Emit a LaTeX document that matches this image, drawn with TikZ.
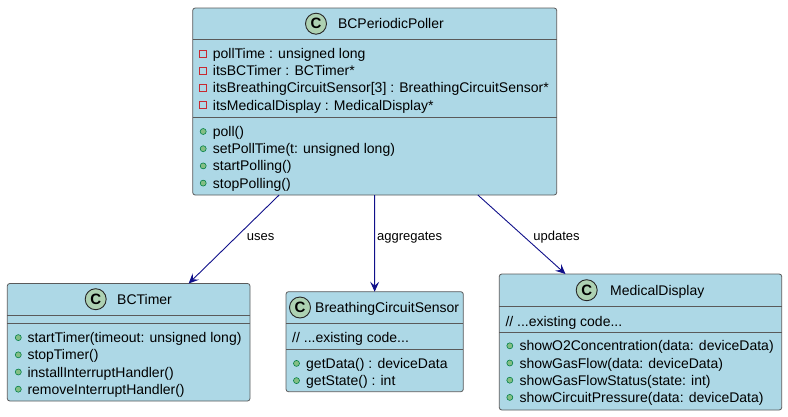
\documentclass[tikz,border=0pt]{standalone}
\usepackage{fontspec}
\setmainfont{Liberation Sans}
\usetikzlibrary{arrows.meta}
\definecolor{clsfill}{HTML}{ADD8E6}
\definecolor{clsline}{HTML}{5A5A5A}
\definecolor{spotfill}{HTML}{ADD1B2}
\definecolor{arrowblue}{HTML}{10108A}
\definecolor{privred}{HTML}{C82930}
\definecolor{pubfill}{HTML}{84BE84}
\definecolor{publine}{HTML}{038048}
\tikzset{
	cls/.style={draw=clsline, fill=clsfill, rounded corners=2.5pt, line width=0.8pt, inner sep=0pt, outer sep=0pt},
	sep/.style={draw=clsline, line width=0.8pt},
	spot/.style={circle, draw=black!85, fill=spotfill, line width=0.9pt, minimum size=21pt, inner sep=0pt, font=\fontsize{15}{15}\selectfont\bfseries},
	txt/.style={anchor=base west, inner sep=0pt, font=\fontsize{14}{16}\selectfont},
	priv/.style={draw=privred, line width=0.9pt},
	pub/.style={draw=publine, fill=pubfill, line width=0.6pt},
	dep/.style={draw=arrowblue, line width=0.9pt, -{Stealth[length=10pt,width=9pt,inset=4pt]}},
	lbl/.style={anchor=base west, inner sep=0pt, font=\fontsize{13}{15}\selectfont}
}
\begin{document}
\begin{tikzpicture}[x=1pt,y=-1pt]
	\useasboundingbox (0,0) rectangle (788,416);
	\def\r{17.2}
	
	% class boxes
	\node[cls, minimum width=364pt, minimum height=187pt] (poller) at (374.7,101.5) {};
	\node[cls, minimum width=242.7pt, minimum height=117.5pt] (timer) at (128.65,342.25) {};
	\node[cls, minimum width=177.3pt, minimum height=100pt] (sensor) at (374.65,341.7) {};
	\node[cls, minimum width=282.4pt, minimum height=136pt] (display) at (640.5,342) {};
	
	% BCPeriodicPoller
	\draw[sep] (192.7,39.5) -- (556.7,39.5);
	\draw[sep] (192.7,117.5) -- (556.7,117.5);
	\node[spot] (pollerC) at (316,23.7) {C};
	\node[txt] (pollerT) at (337.8,28.7) {BCPeriodicPoller};
	\foreach \row [count=\i from 0] in {{pollTime : unsigned long},{itsBCTimer : BCTimer*},{itsBreathingCircuitSensor[3] : BreathingCircuitSensor*},{itsMedicalDisplay : MedicalDisplay*}}{
		\draw[priv] (199.7,{50+\r*\i}) rectangle +(7,7);
		\node[txt] (pollerA\i) at (212.7,{58.5+\r*\i}) {\row};
	}
	\foreach \row [count=\i from 0] in {{poll()},{setPollTime(t: unsigned long)},{startPolling()},{stopPolling()}}{
		\draw[pub] (203.2,{131.5+\r*\i}) circle (3pt);
		\node[txt] (pollerM\i) at (212.7,{136.5+\r*\i}) {\row};
	}
	
	% BCTimer
	\draw[sep] (7.3,315) -- (250,315);
	\draw[sep] (7.3,323.3) -- (250,323.3);
	\node[spot] (timerC) at (95.7,299.2) {C};
	\node[txt] (timerT) at (117,304.2) {BCTimer};
	\foreach \row [count=\i from 0] in {{startTimer(timeout: unsigned long)},{stopTimer()},{installInterruptHandler()},{removeInterruptHandler()}}{
		\draw[pub] (18.3,{337.6+\r*\i}) circle (3pt);
		\node[txt] (timerM\i) at (27.3,{342.6+\r*\i}) {\row};
	}
	
	% BreathingCircuitSensor
	\draw[sep] (286,323.3) -- (463.3,323.3);
	\draw[sep] (286,349.3) -- (463.3,349.3);
	\node[spot] (sensorC) at (300,307.5) {C};
	\node[txt] (sensorT) at (315,312.5) {BreathingCircuitSensor};
	\node[txt] (sensorN) at (292,342.5) {// ...existing code...};
	\foreach \row [count=\i from 0] in {{getData() : deviceData},{getState() : int}}{
		\draw[pub] (296.5,{363.4+\r*\i}) circle (3pt);
		\node[txt] (sensorM\i) at (306,{368.4+\r*\i}) {\row};
	}
	
	% MedicalDisplay
	\draw[sep] (499.3,306.5) -- (781.7,306.5);
	\draw[sep] (499.3,332) -- (781.7,332);
	\node[spot] (displayC) at (586.7,290.2) {C};
	\node[txt] (displayT) at (610,295.2) {MedicalDisplay};
	\node[txt] (displayN) at (505.3,326) {// ...existing code...};
	\foreach \row [count=\i from 0] in {{showO2Concentration(data: deviceData)},{showGasFlow(data: deviceData)},{showGasFlowStatus(state: int)},{showCircuitPressure(data: deviceData)}}{
		\draw[pub] (509.8,{345.8+\r*\i}) circle (3pt);
		\node[txt] (displayM\i) at (519.3,{350.8+\r*\i}) {\row};
	}
	
	% relations
	\draw[dep] (poller) -- (timer) node[lbl, pos=.46, xshift=9pt, yshift=-4.5pt] (usesL) {uses};
	\draw[dep] (poller) -- (sensor) node[lbl, pos=.42, xshift=2pt, yshift=-4.5pt] (aggL) {aggregates};
	\draw[dep] (poller) -- (display) node[lbl, pos=.515, xshift=10pt, yshift=-4.5pt] (updL) {updates};
\end{tikzpicture}
\end{document}
